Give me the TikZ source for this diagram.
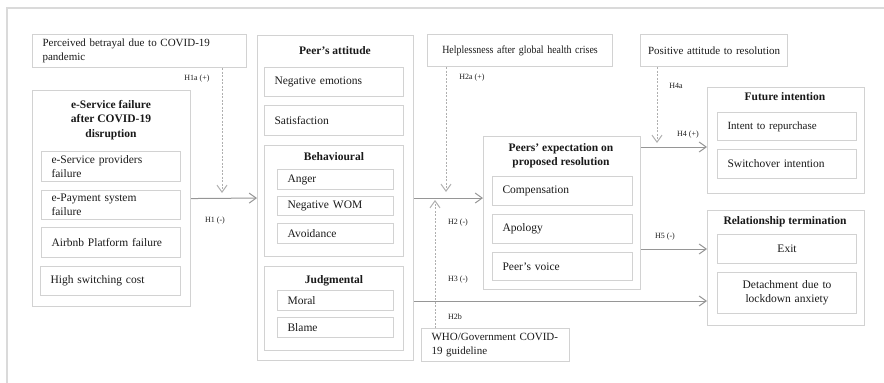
\documentclass[tikz,border=0pt]{standalone}
\usepackage{fontspec}
\setmainfont{Liberation Serif}
\newfontfamily\tightfont[WordSpace=0.35]{Liberation Serif}
\newfontfamily\condfont[WordSpace=0.3, FakeStretch=0.9]{Liberation Serif}
\usetikzlibrary{arrows.meta}
\definecolor{boxgray}{RGB}{210,210,210}
\definecolor{framegray}{RGB}{218,218,218}
\definecolor{arrowgray}{RGB}{150,150,150}
\definecolor{dashgray}{RGB}{175,175,175}
\definecolor{txtgray}{RGB}{25,25,25}

\begin{document}
\begin{tikzpicture}[x=1pt, y=-1pt,
    box/.style={draw=boxgray, line width=1.1pt, anchor=north west, inner xsep=10pt, inner ysep=1pt,
        align=left, font=\fontsize{11.5}{14}\selectfont, text=txtgray},
    cbox/.style={box, align=center},
    tight/.style={font=\tightfont\fontsize{11}{14}\selectfont},
    group/.style={draw=boxgray, line width=1.1pt, anchor=north west, inner sep=0pt},
    title/.style={anchor=north, align=center, inner sep=0pt, font=\bfseries\fontsize{11.5}{14.5}\selectfont, text=txtgray},
    lbl/.style={font=\fontsize{8}{9}\selectfont, inner sep=0pt, text=txtgray},
    arr/.style={draw=arrowgray, line width=1pt, -{Straight Barb[length=7pt, width=10pt]}},
    darr/.style={draw=dashgray, line width=1pt, dash pattern=on 2pt off 1.5pt, -{Straight Barb[length=7pt, width=10pt]}}]
    \useasboundingbox (0,0) rectangle (884,383);

    % Frame
    \draw[framegray, line width=2pt] (7,383) -- (7,8) -- (884,8);

    % e-Service failure
    \node[box, tight, text width=194pt, minimum height=33pt] (betrayal) at (32,34) {Perceived betrayal due to COVID-19\\pandemic};
    \node[group, minimum width=158pt, minimum height=216pt] (eserv) at (32,90) {};
    \node[title] (eservt) at (111,100) {e-Service failure\\after COVID-19\\disruption};
    \node[box, text width=119pt, minimum height=30pt] (eprov) at (41,151) {e-Service providers\\failure};
    \node[box, text width=119pt, minimum height=29pt] (epay) at (41,190) {e-Payment system\\failure};
    \node[box, text width=119pt, minimum height=30pt] (airbnb) at (41,227) {Airbnb Platform failure};
    \node[box, text width=120pt, minimum height=29pt] (switch) at (40,266) {High switching cost};

    % Peer's attitude
    \node[group, minimum width=156pt, minimum height=325pt] (attitude) at (257,35) {};
    \node[title] (attitudet) at (335,46) {Peer’s attitude};
    \node[box, text width=119pt, minimum height=29pt] (negemo) at (264,67) {Negative emotions};
    \node[box, text width=119pt, minimum height=30pt] (satis) at (264,105) {Satisfaction};
    \node[group, minimum width=139pt, minimum height=111pt] (behav) at (264,145) {};
    \node[title] (behavt) at (334,152) {Behavioural};
    \node[box, text width=96pt, minimum height=20pt] (anger) at (277,169) {Anger};
    \node[box, text width=96pt, minimum height=19pt] (nwom) at (277,196) {Negative WOM};
    \node[box, text width=96pt, minimum height=20pt] (avoid) at (277,223) {Avoidance};
    \node[group, minimum width=139pt, minimum height=84pt] (judg) at (264,266) {};
    \node[title] (judgt) at (334,275) {Judgmental};
    \node[box, text width=96pt, minimum height=20pt] (moral) at (277,290) {Moral};
    \node[box, text width=96pt, minimum height=20pt] (blame) at (277,317) {Blame};

    % Peers' expectation
    \node[cbox, font=\condfont\fontsize{11}{14}\selectfont, text width=185pt, inner xsep=0pt, minimum height=32pt] (helpless) at (427,34) {Helplessness after global health crises};
    \node[group, minimum width=157pt, minimum height=153pt] (expect) at (483,136) {};
    \node[title] (expectt) at (561,143) {Peers’ expectation on\\proposed resolution};
    \node[box, text width=120pt, minimum height=29pt] (comp) at (492,176) {Compensation};
    \node[box, text width=120pt, minimum height=29pt] (apology) at (492,214) {Apology};
    \node[box, text width=120pt, minimum height=28pt] (voice) at (492,252) {Peer’s voice};
    \node[box, tight, text width=134pt, inner xsep=7pt, minimum height=33pt] (who) at (421,328) {\hspace*{3pt}WHO/Government COVID-\\\hspace*{3pt}19 guideline};

    % Outcomes
    \node[cbox, tight, text width=135pt, inner xsep=6pt, minimum height=32pt] (positive) at (640,34) {Positive attitude to resolution};
    \node[group, minimum width=157pt, minimum height=106pt] (future) at (707,87) {};
    \node[title] (futuret) at (785,92) {Future intention};
    \node[box, tight, text width=119pt, minimum height=28pt] (repurch) at (717,112) {Intent to repurchase};
    \node[box, text width=119pt, minimum height=29pt] (switchover) at (717,149) {Switchover intention};
    \node[group, minimum width=157pt, minimum height=115pt] (term) at (707,210) {};
    \node[title] (termt) at (785,216) {Relationship termination};
    \node[cbox, text width=119pt, minimum height=29pt] (exit) at (717,234) {Exit};
    \node[cbox, text width=119pt, minimum height=41pt] (detach) at (717,272) {Detachment due to\\lockdown anxiety};

    % Dashed moderators
    \coordinate (h1aend) at (222,193);
    \coordinate (h2aend) at (446,192);
    \coordinate (h2bend) at (435,200);
    \coordinate (h4aend) at (657,143);
    \draw[darr] (betrayal.south -| h1aend) -- (h1aend);
    \draw[darr] (helpless.south -| h2aend) -- (h2aend);
    \draw[darr] (who.north -| h2bend) -- (h2bend);
    \draw[darr] (positive.south -| h4aend) -- (h4aend);

    % Paths
    \coordinate (h3y) at (0,301);
    \coordinate (h4y) at (0,147);
    \coordinate (h5y) at (0,249);
    \draw[arr] (eserv.east) -- (attitude.west);
    \draw[arr] (attitude.east) -- (attitude.east -| expect.west);
    \draw[arr] (attitude.east |- h3y) -- (term.west |- h3y);
    \draw[arr] (expect.east |- h4y) -- (future.west |- h4y);
    \draw[arr] (expect.east |- h5y) -- (term.west |- h5y);

    % Path labels
    \foreach \name/\x/\y/\txt in {lh1a/197/79/H1a (+), lh1/215/221/H1 (-), lh2a/472/78/H2a (+),
        lh2/458/223/H2 (-), lh3/458/280/H3 (-), lh2b/455/317/H2b, lh4a/676/86/H4a,
        lh4/688/135/H4 (+), lh5/665/237/H5 (-)}
        \node[lbl] (\name) at (\x,\y) {\txt};
\end{tikzpicture}
\end{document}
